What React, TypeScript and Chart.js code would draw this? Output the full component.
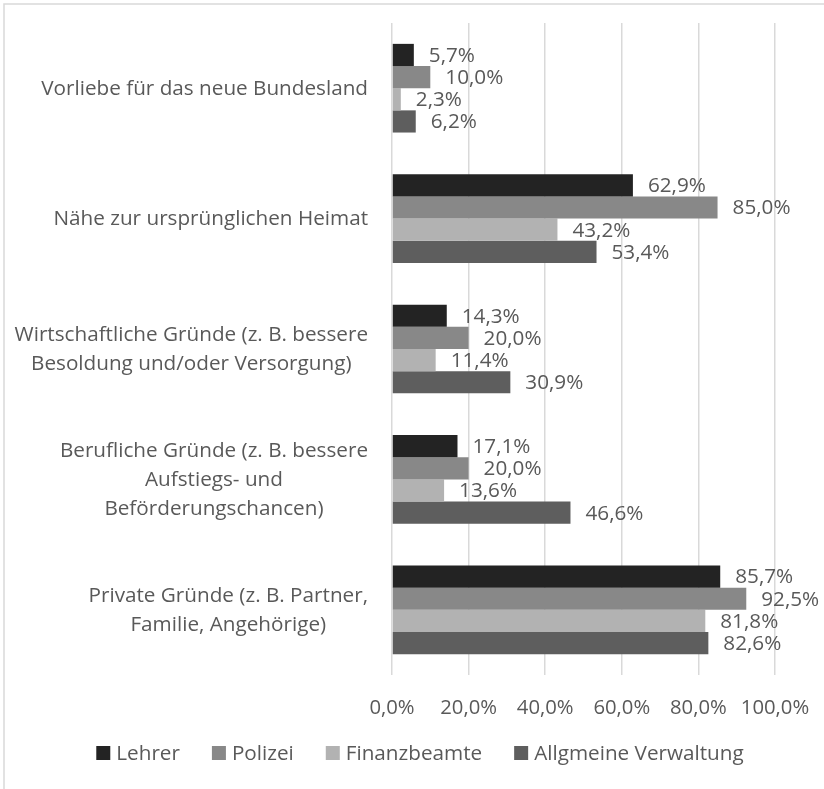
import React, { useEffect, useRef } from "react";
import { Chart, registerables } from "chart.js";

Chart.register(...registerables);

const categories: string[][] = [
  ["Vorliebe für das neue Bundesland"],
  ["Nähe zur ursprünglichen Heimat"],
  ["Wirtschaftliche Gründe (z. B. bessere", "Besoldung und/oder Versorgung)"],
  ["Berufliche Gründe (z. B. bessere", "Aufstiegs- und", "Beförderungschancen)"],
  ["Private Gründe (z. B. Partner,", "Familie, Angehörige)"],
];
const seriesNames = ["Lehrer", "Polizei", "Finanzbeamte", "Allgmeine Verwaltung"];
const lehrer = [5.7, 62.9, 14.3, 17.1, 85.7];
const polizei = [10.0, 85.0, 20.0, 20.0, 92.5];
const finanzbeamte = [2.3, 43.2, 11.4, 13.6, 81.8];
const verwaltung = [6.2, 53.4, 30.9, 46.6, 82.6];
const seriesColors = ["#232323", "#888888", "#b2b2b2", "#5e5e5e"];
const xMin = 0;
const xMax = 100;
const xStep = 20;

const FONT = "'Open Sans', 'Noto Sans', sans-serif";
const FS = 20.7;
const TICK_FS = 20.3;
const TEXT = "#595959";

const fmt = (v: number) => v.toFixed(1).replace(".", ",") + "%";

export default function App() {
  const ref = useRef<HTMLCanvasElement | null>(null);

  useEffect(() => {
    if (!ref.current) return;
    const all = [lehrer, polizei, finanzbeamte, verwaltung];

    const framePlugin = {
      id: "frame",
      beforeDraw(chart: any) {
        const ctx = chart.ctx;
        ctx.save();
        ctx.fillStyle = "#ffffff";
        ctx.fillRect(0, 0, chart.width, chart.height);
        ctx.strokeStyle = "#d9d9d9";
        ctx.lineWidth = 1.5;
        ctx.strokeRect(4, 4, chart.width + 20, chart.height + 20);
        ctx.restore();
      },
    };

    const labelPlugin = {
      id: "valueLabels",
      afterDatasetsDraw(chart: any) {
        const ctx = chart.ctx;
        ctx.save();
        ctx.font = `${FS}px ${FONT}`;
        ctx.fillStyle = TEXT;
        ctx.textAlign = "left";
        ctx.textBaseline = "middle";
        chart.data.datasets.forEach((ds: any, i: number) => {
          const meta = chart.getDatasetMeta(i);
          meta.data.forEach((bar: any, j: number) => {
            ctx.fillText(fmt(ds.data[j]), bar.x + 15, bar.y + 1);
          });
        });
        ctx.restore();
      },
    };

    const yLabelPlugin = {
      id: "yLabels",
      afterDraw(chart: any) {
        const ctx = chart.ctx;
        const yScale = chart.scales.y;
        ctx.save();
        ctx.font = `${FS}px ${FONT}`;
        ctx.fillStyle = TEXT;
        ctx.textAlign = "center";
        ctx.textBaseline = "middle";
        const right = chart.chartArea.left - 24;
        const lh = 29;
        categories.forEach((lines, j) => {
          const y = yScale.getPixelForValue(j);
          const w = Math.max(...lines.map((l) => ctx.measureText(l).width));
          const cx = right - w / 2;
          lines.forEach((l, k) => {
            ctx.fillText(l, cx, y + (k - (lines.length - 1) / 2) * lh + 1);
          });
        });
        ctx.restore();
      },
    };

    const legendPlugin = {
      id: "customLegend",
      afterDraw(chart: any) {
        const ctx = chart.ctx;
        ctx.save();
        ctx.font = `${FS}px ${FONT}`;
        ctx.textBaseline = "middle";
        ctx.textAlign = "left";
        const box = 14;
        const gap = 6;
        const spacing = 32;
        const ds = chart.data.datasets;
        const widths = ds.map((d: any) => box + gap + ctx.measureText(d.label).width);
        const total = widths.reduce((a: number, b: number) => a + b, 0) + spacing * (ds.length - 1);
        let x = 420 - total / 2;
        const cy = 753;
        ds.forEach((d: any, i: number) => {
          ctx.fillStyle = d.backgroundColor;
          ctx.fillRect(x, cy - box / 2, box, box);
          ctx.fillStyle = TEXT;
          ctx.fillText(d.label, x + box + gap, cy + 1);
          x += widths[i] + spacing;
        });
        ctx.restore();
      },
    };

    const chart = new Chart(ref.current, {
      type: "bar",
      data: {
        labels: categories.map((c) => c.join(" ")),
        datasets: seriesNames.map((name, i) => ({
          label: name,
          data: all[i],
          backgroundColor: seriesColors[i],
          borderWidth: 0,
          barPercentage: 1,
          categoryPercentage: 0.68,
        })),
      },
      options: {
        indexAxis: "y",
        responsive: false,
        animation: false,
        layout: { padding: { top: 23, right: 49, left: 0, bottom: 0 } },
        plugins: {
          legend: { display: false },
          tooltip: { enabled: false },
        },
        scales: {
          x: {
            min: xMin,
            max: xMax,
            ticks: {
              stepSize: xStep,
              color: TEXT,
              font: { family: FONT, size: TICK_FS },
              padding: 21,
              maxRotation: 0,
              callback: (v: any) => fmt(Number(v)),
            },
            grid: { color: "#d9d9d9", lineWidth: 1.5, drawTicks: false },
            border: { display: false },
            afterFit: (s: any) => {
              s.height = 114;
              s.paddingLeft = 0;
              s.paddingRight = 0;
            },
          },
          y: {
            ticks: { display: false },
            grid: { display: false },
            border: { display: false },
            afterFit: (s: any) => {
              s.width = 392;
              s.paddingTop = 0;
              s.paddingBottom = 0;
            },
          },
        },
      },
      plugins: [framePlugin, labelPlugin, yLabelPlugin, legendPlugin],
    } as any);

    return () => chart.destroy();
  }, []);

  return (
    <div style={{ position: "fixed", left: 0, top: 0, width: 824, height: 789 }}>
      <canvas ref={ref} width={824} height={789} style={{ display: "block" }} />
    </div>
  );
}
